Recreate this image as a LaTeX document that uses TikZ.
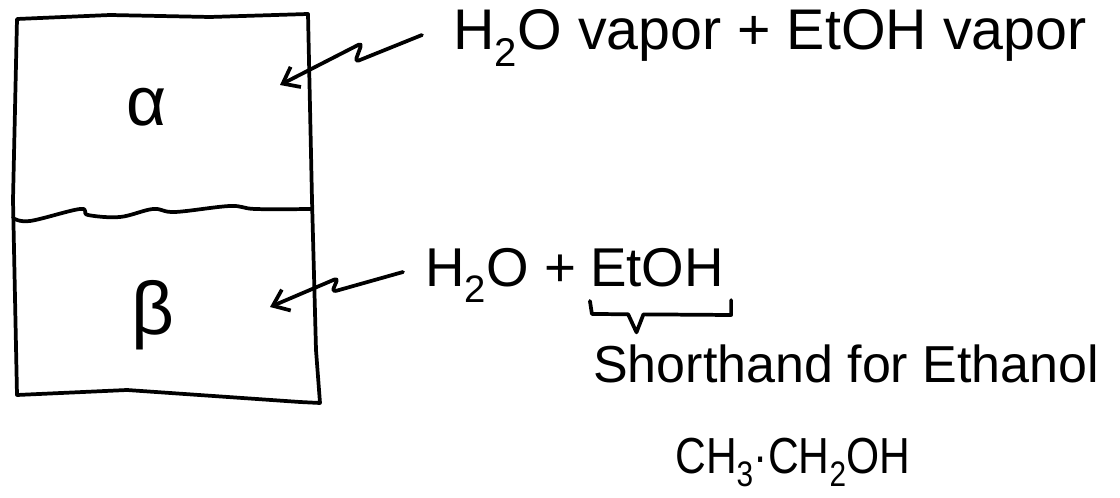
\documentclass[tikz,border=0pt]{standalone}
\usepackage{fontspec}
\setmainfont{Liberation Sans}
\newfontfamily\narrowhand[FakeStretch=0.84]{Liberation Sans}
\usetikzlibrary{arrows.meta, positioning, calc}

\tikzset{
  hand/.style={line width=2.8pt, line cap=round, line join=round},
  squiggle/.style={hand, rounded corners=3pt,
    -{Straight Barb[length=11pt, width=17pt, line width=2.8pt]}},
  phase/.style={inner sep=0pt},
  lbl/.style={inner sep=0pt, anchor=base west},
}

\begin{document}
\begin{tikzpicture}[x=0.75pt, y=-0.75pt]
  \useasboundingbox (0,0) rectangle (1120,498);

  % Container, drawn by hand
  \draw[hand] (17,19) -- (110,15) -- (210,17) -- (308,14)
    -- (312,200) -- (316,350) -- (320,403)
    -- (300,402) -- (127,390) -- (17,395)
    -- (13,200) -- cycle;

  % Interface between the two phases
  \draw[hand] plot[smooth, tension=0.6] coordinates
    {(13,218) (30,221) (80,209) (88,215) (120,217) (153,209)
     (175,212) (230,206) (255,209) (312,209)};

  % Phases
  \node[phase, font=\fontsize{52}{56}\selectfont] (alpha) at (147,107) {α};
  \node[phase, font=\fontsize{56}{60}\selectfont] (beta) at (153,315) {β};

  % Labels
  \node[lbl, font=\fontsize{43}{46}\selectfont] (vapor) at (453,50)
    {H\textsubscript{2}O vapor + EtOH vapor};
  \node[lbl, font=\fontsize{41}{44}\selectfont] (water) at (425,287)
    {H\textsubscript{2}O +};
  \node[lbl, font=\fontsize{41}{44}\selectfont] (etoh)
    at ([xshift=10pt]water.base east) {EtOH};
  \node[lbl, font=\fontsize{39}{42}\selectfont] (note) at (593,383)
    {Shorthand for Ethanol};
  \node[lbl, font=\narrowhand\fontsize{38}{42}\selectfont] (formula) at (675,473)
    {CH\textsubscript{3}·CH\textsubscript{2}OH};

  % Arrow tips inside the box
  \coordinate (atip) at (280,85);
  \coordinate (btip) at (270,307);

  % Squiggly arrows
  \draw[squiggle] ($(vapor.base west)+(-31,-15)$) -- (355,62) -- (362,43)
    -- (atip);
  \draw[squiggle] ($(water.base west)+(-22,-15)$) -- (332,292) -- (338,278)
    -- (btip);

  % Brace under EtOH
  \path (etoh.base west) ++(2,27) coordinate (bl)
        (etoh.base east) ++(7,28) coordinate (br);
  \coordinate (bt) at ($(bl)!0.32!(br) + (0,18)$);
  \draw[hand] ($(bl)+(-2,-13)$) -- (bl) -- ($(bl)!0.26!(br)$) -- (bt)
    -- ($(bl)!0.37!(br)$) -- (br) -- ($(br)+(0,-15)$);

\end{tikzpicture}
\end{document}
